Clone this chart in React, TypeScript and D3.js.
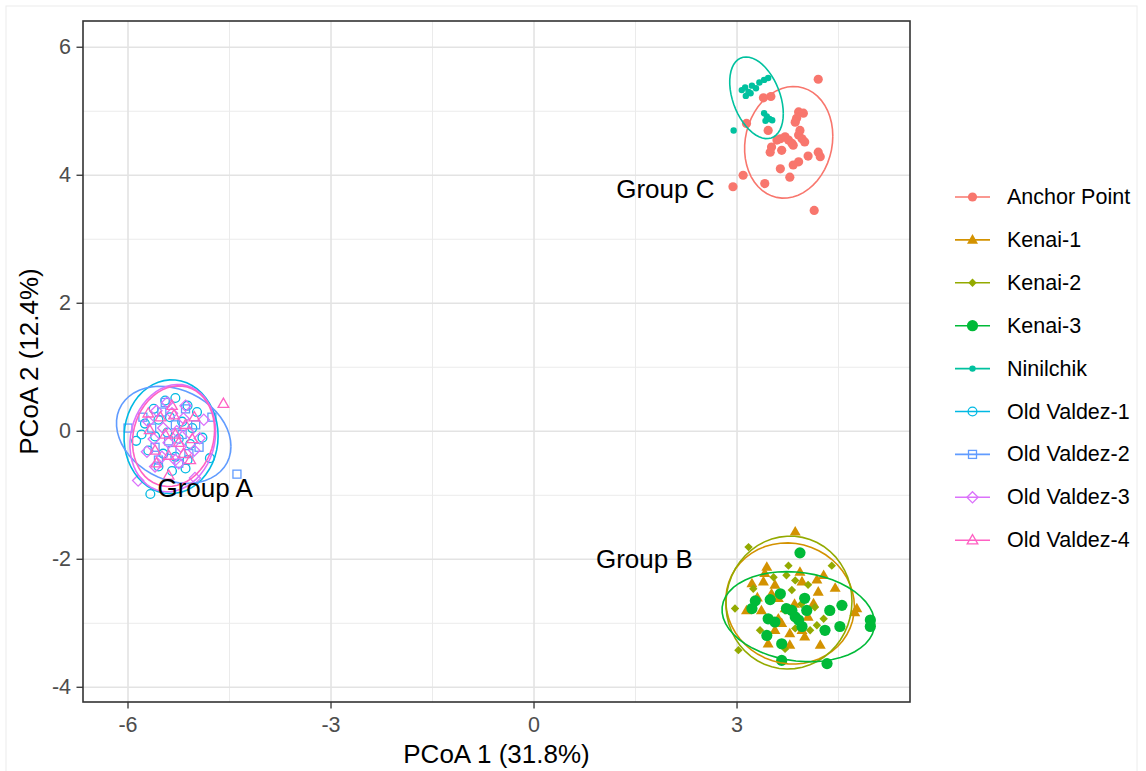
import React from 'react';
import * as d3 from 'd3';

// ---------------- DATA ----------------
const seriesNames = ['Anchor Point', 'Kenai-1', 'Kenai-2', 'Kenai-3', 'Ninilchik', 'Old Valdez-1', 'Old Valdez-2', 'Old Valdez-3', 'Old Valdez-4'];
const seriesColors = ['#F8766D', '#D39200', '#93AA00', '#00BA38', '#00C19F', '#00B9E3', '#619CFF', '#DB72FB', '#FF61C3'];

const anchorPoint: [number, number][] = [
  [3.39, 5.21], [3.50, 5.23], [3.14, 4.81], [3.46, 4.70], [3.91, 4.99], [3.98, 4.97], [3.88, 4.89], [3.86, 4.83],
  [3.93, 4.70], [3.91, 4.63], [3.64, 4.57], [3.71, 4.60], [3.76, 4.55], [3.81, 4.50], [3.59, 4.55], [3.51, 4.44],
  [3.49, 4.36], [3.66, 4.39], [3.83, 4.47], [3.96, 4.57], [4.00, 4.52], [4.05, 4.30], [4.20, 4.36], [4.23, 4.29],
  [3.91, 4.21], [3.83, 4.16], [3.64, 4.10], [3.09, 4.00], [3.78, 3.97], [3.41, 3.87], [2.94, 3.82], [4.14, 3.45],
  [4.20, 5.50],
];
const kenai1: [number, number][] = [
  [3.86, -1.57], [3.44, -2.12], [3.41, -2.22], [3.93, -2.20], [4.28, -2.25], [4.18, -2.32], [3.39, -2.35], [3.56, -2.40],
  [3.96, -2.35], [3.22, -2.38], [4.20, -2.51], [3.51, -2.54], [3.61, -2.61], [3.14, -2.80], [3.71, -2.77], [4.13, -2.69],
  [4.77, -2.77], [3.36, -2.80], [3.61, -2.93], [3.66, -3.00], [3.96, -3.11], [3.56, -3.11], [3.78, -3.16], [3.46, -3.32],
  [3.78, -3.34], [4.00, -3.21], [4.23, -3.34], [4.74, -2.83], [3.30, -2.60], [4.45, -2.45], [3.85, -2.70], [4.05, -2.90],
];
const kenai2: [number, number][] = [
  [3.17, -1.81], [3.76, -2.10], [3.86, -2.33], [4.40, -2.10], [3.24, -2.46], [3.81, -2.48], [2.97, -2.77], [4.15, -2.75],
  [4.28, -2.93], [3.34, -3.11], [3.86, -3.08], [4.08, -3.11], [4.18, -3.03], [3.71, -3.40], [3.02, -3.42], [3.54, -2.28],
  [3.73, -2.25], [4.05, -2.40], [3.71, -2.80], [3.50, -2.95], [3.95, -2.70],
];
const kenai3: [number, number][] = [
  [3.93, -1.90], [3.64, -2.54], [3.49, -2.63], [3.27, -2.65], [3.22, -2.77], [4.00, -2.61], [3.73, -2.77], [3.81, -2.80],
  [3.86, -2.90], [4.03, -2.80], [4.55, -2.72], [4.37, -2.80], [3.46, -2.93], [3.56, -2.98], [3.91, -2.95], [3.96, -3.05],
  [3.44, -3.19], [4.30, -3.11], [4.52, -3.05], [3.66, -3.32], [4.97, -2.95], [4.97, -3.05], [3.66, -3.58], [4.33, -3.63],
];
const ninilchik: [number, number][] = [
  [3.07, 5.33], [3.12, 5.37], [3.17, 5.30], [3.22, 5.40], [3.28, 5.36], [3.33, 5.45], [3.40, 5.49], [3.46, 5.52],
  [3.13, 5.24], [3.20, 5.28], [3.40, 4.97], [3.44, 4.92], [3.48, 4.88], [3.52, 4.86], [3.42, 4.85], [2.95, 4.70],
];
const oldValdez1: [number, number][] = [
  [-5.62, 0.35], [-5.45, 0.48], [-5.30, 0.52], [-5.12, 0.40], [-4.98, 0.30], [-5.75, 0.12], [-5.55, 0.18], [-5.38, 0.22],
  [-5.20, 0.15], [-5.05, 0.05], [-5.80, -0.05], [-5.60, -0.08], [-5.42, -0.02], [-5.25, -0.12], [-5.08, -0.20], [-4.90, -0.10],
  [-5.70, -0.30], [-5.48, -0.35], [-5.30, -0.40], [-5.12, -0.45], [-4.79, -0.42], [-5.55, -0.55], [-5.35, -0.62], [-5.15, -0.58],
  [-5.67, -0.98], [-5.88, -0.15],
];
const oldValdez2: [number, number][] = [
  [-5.50, 0.30], [-5.30, 0.10], [-5.15, 0.35], [-4.76, 0.22], [-5.65, 0.05], [-5.40, -0.15], [-5.20, -0.05], [-5.00, 0.10],
  [-5.60, -0.25], [-5.35, -0.30], [-5.10, -0.35], [-4.39, -0.67], [-5.78, 0.22], [-5.45, 0.45], [-5.25, -0.50], [-6.00, 0.05],
  [-4.95, -0.25], [-5.55, -0.45],
];
const oldValdez3: [number, number][] = [
  [-5.58, 0.32], [-5.35, 0.28], [-5.18, 0.20], [-4.94, -0.11], [-5.70, 0.15], [-5.48, 0.05], [-5.28, 0.00], [-5.10, -0.02],
  [-5.62, -0.12], [-5.40, -0.18], [-5.22, -0.24], [-5.02, -0.30], [-5.85, -0.77], [-5.01, -0.73], [-5.50, -0.40], [-5.30, -0.45],
  [-5.72, -0.32], [-5.15, 0.40], [-5.42, 0.45], [-4.88, 0.18], [-5.60, -0.55], [-5.25, -0.50],
];
const oldValdez4: [number, number][] = [
  [-5.52, 0.22], [-5.32, 0.25], [-5.15, 0.10], [-4.59, 0.43], [-5.68, 0.02], [-5.45, -0.05], [-5.25, -0.18], [-5.05, -0.12],
  [-5.40, -0.38], [-5.40, -0.69], [-5.60, -0.30], [-5.18, -0.35], [-5.35, 0.40], [-5.70, 0.28], [-5.02, 0.22], [-5.58, -0.50],
  [-5.08, -0.45], [-5.30, -0.05],
];
const seriesData = [anchorPoint, kenai1, kenai2, kenai3, ninilchik, oldValdez1, oldValdez2, oldValdez3, oldValdez4];
// shape kinds per series (ggplot shapes 16,17,18,19,20,1,0,5,2)
const seriesShapes = ['dot', 'triangleFilled', 'diamondFilled', 'bigDot', 'smallDot', 'circleOpen', 'squareOpen', 'diamondOpen', 'triangleOpen'];

const xTicks = [-6, -3, 0, 3];
const yTicks = [-4, -2, 0, 2, 4, 6];
const xMinor = [-4.5, -1.5, 1.5, 4.5];
const yMinor = [-3, -1, 1, 3, 5];
const groupLabels = ['Group A', 'Group B', 'Group C'];
const groupLabelX = [-4.86, 1.63, 1.94];
const groupLabelY = [-0.89, -2.0, 3.78];
const xTitle = 'PCoA 1 (31.8%)';
const yTitle = 'PCoA 2 (12.4%)';

// ---------------- LAYOUT ----------------
const W = 1146, H = 771;
const P = { left: 83, right: 910, top: 21, bottom: 702 };
const FONT = '"Liberation Sans", Arial, Helvetica, sans-serif';

const x = d3.scaleLinear().domain([-6.665, 5.556]).range([P.left, P.right]);
const y = d3.scaleLinear().domain([-4.23, 6.41]).range([P.bottom, P.top]);

// robust covariance like MASS::cov.trob
function covTrob(pts: [number, number][]) {
  const n = pts.length, p = 2, nu = 5;
  let w = new Array(n).fill(1);
  let loc = [d3.mean(pts, d => d[0])!, d3.mean(pts, d => d[1])!];
  let X = pts.map(d => [d[0] - loc[0], d[1] - loc[1]]);
  for (let iter = 0; iter < 50; iter++) {
    const w0 = w.slice();
    X = pts.map(d => [d[0] - loc[0], d[1] - loc[1]]);
    const sw = d3.sum(w);
    let a = 0, b = 0, c = 0;
    X.forEach((v, i) => { a += w[i] * v[0] * v[0]; b += w[i] * v[0] * v[1]; c += w[i] * v[1] * v[1]; });
    a /= sw; b /= sw; c /= sw;
    const det = a * c - b * b;
    const Q = X.map(v => (c * v[0] * v[0] - 2 * b * v[0] * v[1] + a * v[1] * v[1]) / det);
    w = Q.map(q => (nu + p) / (nu + q));
    const sw2 = d3.sum(w);
    loc = [d3.sum(pts, (d, i) => w[i] * d[0]) / sw2, d3.sum(pts, (d, i) => w[i] * d[1]) / sw2];
    if (d3.max(w, (v, i) => Math.abs(v - w0[i]))! < 1e-4) break;
  }
  let a = 0, b = 0, c = 0;
  X.forEach((v, i) => { a += w[i] * v[0] * v[0]; b += w[i] * v[0] * v[1]; c += w[i] * v[1] * v[1]; });
  return { center: loc, cov: [a / n, b / n, c / n] };
}

function ellipsePoints(pts: [number, number][]) {
  const { center, cov } = covTrob(pts);
  const [a, b, c] = cov;
  const r11 = Math.sqrt(a), r12 = b / r11, r22 = Math.sqrt(c - r12 * r12);
  const m = pts.length - 1;
  const f = (m / 2) * (Math.pow(0.05, -2 / m) - 1);
  const radius = Math.sqrt(2 * f);
  const seg = 51;
  return d3.range(seg + 1).map(k => {
    const t = (k * 2 * Math.PI) / seg;
    const u = Math.cos(t), v = Math.sin(t);
    return [center[0] + radius * u * r11, center[1] + radius * (u * r12 + v * r22)] as [number, number];
  });
}

const ellLine = d3.line<[number, number]>().x(d => x(d[0])).y(d => y(d[1])).curve(d3.curveLinear);

function Marker({ kind, cx, cy, color }: { kind: string; cx: number; cy: number; color: string }) {
  switch (kind) {
    case 'dot': return <circle cx={cx} cy={cy} r={4.6} fill={color} />;
    case 'bigDot': return <circle cx={cx} cy={cy} r={5.6} fill={color} />;
    case 'smallDot': return <circle cx={cx} cy={cy} r={3.2} fill={color} />;
    case 'triangleFilled': {
      const s = 5.8;
      return <path d={`M${cx},${cy - s}L${cx + s * 0.95},${cy + s * 0.65}L${cx - s * 0.95},${cy + s * 0.65}Z`} fill={color} />;
    }
    case 'diamondFilled': {
      const s = 4.2;
      return <path d={`M${cx},${cy - s}L${cx + s},${cy}L${cx},${cy + s}L${cx - s},${cy}Z`} fill={color} />;
    }
    case 'circleOpen': return <circle cx={cx} cy={cy} r={4.4} fill="none" stroke={color} strokeWidth={1.3} />;
    case 'squareOpen': return <rect x={cx - 4} y={cy - 4} width={8} height={8} fill="none" stroke={color} strokeWidth={1.3} />;
    case 'diamondOpen': {
      const s = 5.6;
      return <path d={`M${cx},${cy - s}L${cx + s},${cy}L${cx},${cy + s}L${cx - s},${cy}Z`} fill="none" stroke={color} strokeWidth={1.3} />;
    }
    case 'triangleOpen': {
      const s = 5.6;
      return <path d={`M${cx},${cy - s}L${cx + s * 0.95},${cy + s * 0.65}L${cx - s * 0.95},${cy + s * 0.65}Z`} fill="none" stroke={color} strokeWidth={1.3} />;
    }
  }
  return null;
}

export default function App() {
  const legendX0 = 955, legendX1 = 990, legendTop = 197, legendStep = 42.9;
  return (
    <svg width={W} height={H} style={{ position: 'absolute', left: 0, top: 0, background: '#fff' }} fontFamily={FONT}>
      <rect x={6} y={6} width={1131} height={800} fill="none" stroke="#ececec" strokeWidth={1} />
      <defs>
        <clipPath id="panel">
          <rect x={P.left} y={P.top} width={P.right - P.left} height={P.bottom - P.top} />
        </clipPath>
      </defs>
      {/* grid */}
      {xMinor.map(v => <line key={'xm' + v} x1={x(v)} x2={x(v)} y1={P.top} y2={P.bottom} stroke="#ebebeb" strokeWidth={1} />)}
      {yMinor.map(v => <line key={'ym' + v} y1={y(v)} y2={y(v)} x1={P.left} x2={P.right} stroke="#ebebeb" strokeWidth={1} />)}
      {xTicks.map(v => <line key={'xg' + v} x1={x(v)} x2={x(v)} y1={P.top} y2={P.bottom} stroke="#e3e3e3" strokeWidth={1.6} />)}
      {yTicks.map(v => <line key={'yg' + v} y1={y(v)} y2={y(v)} x1={P.left} x2={P.right} stroke="#e3e3e3" strokeWidth={1.6} />)}
      {/* points and ellipses */}
      <g clipPath="url(#panel)">
        {seriesData.map((pts, si) => (
          <g key={'s' + si}>
            {pts.map((d, i) => <Marker key={i} kind={seriesShapes[si]} cx={x(d[0])} cy={y(d[1])} color={seriesColors[si]} />)}
          </g>
        ))}
        {seriesData.map((pts, si) => (
          <path key={'e' + si} d={ellLine(ellipsePoints(pts)) || ''} fill="none" stroke={seriesColors[si]} strokeWidth={1.6} />
        ))}
      </g>
      {/* group labels */}
      {groupLabels.map((t, i) => (
        <text key={t} x={x(groupLabelX[i])} y={y(groupLabelY[i])} textAnchor="middle" dominantBaseline="central" fontSize={26} fill="#000">{t}</text>
      ))}
      {/* panel border */}
      <rect x={P.left} y={P.top} width={P.right - P.left} height={P.bottom - P.top} fill="none" stroke="#333333" strokeWidth={1.6} />
      {/* axes ticks */}
      {xTicks.map(v => (
        <g key={'xt' + v}>
          <line x1={x(v)} x2={x(v)} y1={P.bottom} y2={P.bottom + 6.5} stroke="#333333" strokeWidth={1.3} />
          <text x={x(v)} y={732} textAnchor="middle" fontSize={21.5} fill="#4d4d4d">{v}</text>
        </g>
      ))}
      {yTicks.map(v => (
        <g key={'yt' + v}>
          <line x1={P.left - 6.5} x2={P.left} y1={y(v)} y2={y(v)} stroke="#333333" strokeWidth={1.3} />
          <text x={71} y={y(v)} textAnchor="end" dominantBaseline="central" fontSize={21.5} fill="#4d4d4d">{v}</text>
        </g>
      ))}
      {/* titles */}
      <text x={(P.left + P.right) / 2} y={763} textAnchor="middle" fontSize={26} fill="#000">{xTitle}</text>
      <text transform={`translate(38,${(P.top + P.bottom) / 2}) rotate(-90)`} textAnchor="middle" fontSize={26} fill="#000">{yTitle}</text>
      {/* legend */}
      {seriesNames.map((name, i) => {
        const ly = legendTop + i * legendStep;
        return (
          <g key={name}>
            <line x1={legendX0} x2={legendX1} y1={ly} y2={ly} stroke={seriesColors[i]} strokeWidth={1.6} />
            <Marker kind={seriesShapes[i]} cx={(legendX0 + legendX1) / 2} cy={ly} color={seriesColors[i]} />
            <text x={1007} y={ly} dominantBaseline="central" fontSize={21.5} fill="#000">{name}</text>
          </g>
        );
      })}
    </svg>
  );
}
